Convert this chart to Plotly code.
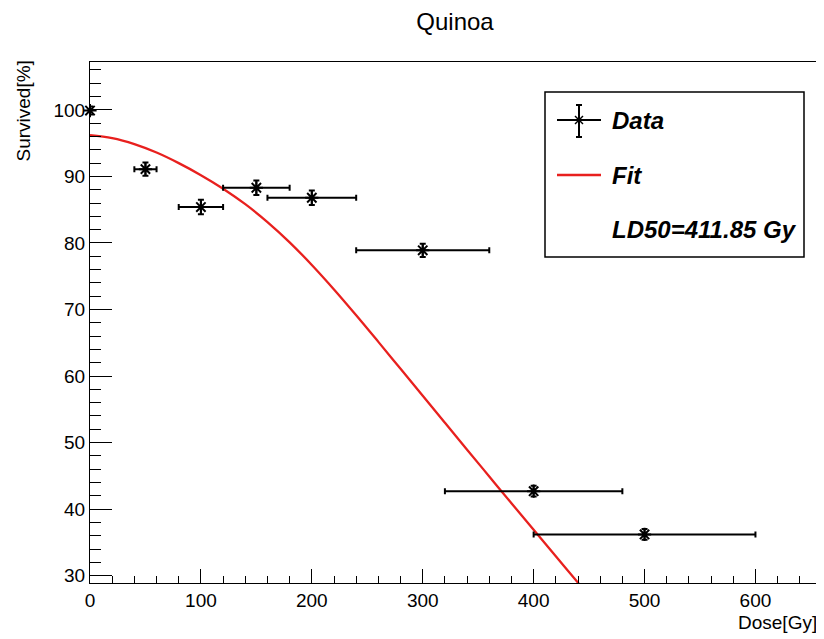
import plotly.graph_objects as go

# ---- data ----
dose = [0, 50, 100, 150, 200, 300, 400, 500]
survived = [99.9, 91.1, 85.4, 88.3, 86.8, 78.9, 42.7, 36.2]
dose_err = [0, 10, 20, 30, 40, 60, 80, 100]
survived_err = [0.6, 1.0, 1.1, 1.1, 1.1, 1.0, 0.8, 0.8]

fit_dose = [0, 20, 40, 60, 80, 100, 120, 140, 160, 180, 200, 220,
            240, 260, 280, 300, 320, 340, 360, 380, 400, 420, 440, 445]
fit_surv = [96.2, 95.76, 94.86, 93.59, 92.0, 90.19, 88.16, 85.83, 83.15, 80.10, 76.70, 73.02,
            69.14, 65.14, 61.09, 57.03, 52.98, 48.94, 44.91, 40.89, 36.89, 32.91, 28.95, 27.95]

title_text = "Quinoa"
x_title = "Dose[Gy]"
y_title = "Survived[%]"
legend_labels = ["Data", "Fit", "LD50=411.85 Gy"]

FONT = "Liberation Sans, Arial, sans-serif"

# the page body adds an 8px margin; reference pixel coords are shifted by it
OFF = 8
W, H = 824 - OFF, 639 - OFF
# plot area in reference pixels
L, R, T, B = 90, 822, 62, 583


def px(x):
    return (x - L) / (R - L)


def py(y):
    return (B - y) / (B - T)


RED = "#e8201e"

fig = go.Figure()

fig.add_trace(go.Scatter(
    x=fit_dose, y=fit_surv, mode="lines",
    line=dict(color=RED, width=2.3, shape="spline", smoothing=1.0),
    showlegend=False, hoverinfo="skip",
))

fig.add_trace(go.Scatter(
    x=dose, y=survived, mode="markers",
    marker=dict(symbol="asterisk-open", size=11, color="black",
                line=dict(color="black", width=2)),
    error_x=dict(type="data", array=dose_err, color="black", thickness=2, width=3),
    error_y=dict(type="data", array=survived_err, color="black", thickness=2, width=3),
    cliponaxis=False, showlegend=False,
))

shapes = []
# legend box
shapes.append(dict(type="rect", xref="paper", yref="paper",
                   x0=px(545), x1=px(804), y0=py(257), y1=py(92),
                   line=dict(color="black", width=1.5), fillcolor="white", layer="above"))
# data glyph
lc = "black"
shapes.append(dict(type="line", xref="paper", yref="paper", x0=px(557), x1=px(601), y0=py(120), y1=py(120),
                   line=dict(color=lc, width=2)))
shapes.append(dict(type="line", xref="paper", yref="paper", x0=px(579), x1=px(579), y0=py(105), y1=py(137),
                   line=dict(color=lc, width=2)))
for yy in (105, 137):
    shapes.append(dict(type="line", xref="paper", yref="paper", x0=px(576), x1=px(582), y0=py(yy), y1=py(yy),
                       line=dict(color=lc, width=2)))
shapes.append(dict(type="line", xref="paper", yref="paper", x0=px(575), x1=px(583), y0=py(116), y1=py(124),
                   line=dict(color=lc, width=1.5)))
shapes.append(dict(type="line", xref="paper", yref="paper", x0=px(575), x1=px(583), y0=py(124), y1=py(116),
                   line=dict(color=lc, width=1.5)))
# fit glyph
shapes.append(dict(type="line", xref="paper", yref="paper", x0=px(557), x1=px(601), y0=py(175), y1=py(175),
                   line=dict(color=RED, width=2.3)))

annotations = []
for lab, yy in zip(legend_labels, (120, 175, 230)):
    annotations.append(dict(xref="paper", yref="paper", x=px(610), y=py(yy),
                            xanchor="left", yanchor="middle", showarrow=False,
                            text="<b><i>%s</i></b>" % lab,
                            font=dict(family=FONT, size=24, color="black")))
annotations.append(dict(xref="paper", yref="paper", x=px(819), y=py(622),
                        xanchor="right", yanchor="middle", showarrow=False,
                        text=x_title, font=dict(family=FONT, size=19, color="black")))
annotations.append(dict(xref="paper", yref="paper", x=px(23), y=py(59),
                        xanchor="center", yanchor="top", showarrow=False, textangle=-90,
                        text=y_title, font=dict(family=FONT, size=19, color="black")))

fig.update_layout(
    width=W, height=H,
    margin=dict(l=L - OFF, r=W - (R - OFF), t=T - OFF, b=H - (B - OFF)),
    paper_bgcolor="white", plot_bgcolor="white",
    font=dict(family=FONT, color="black"),
    title=dict(text=title_text, x=(455 - OFF) / W, y=1.0,
               xanchor="center", yanchor="top", pad=dict(t=5),
               font=dict(family=FONT, size=24, color="black")),
    shapes=shapes, annotations=annotations,
    showlegend=False,
)

fig.update_xaxes(
    range=[0, 660], tick0=0, dtick=100, ticks="inside", ticklen=14, tickwidth=1, tickcolor="black",
    minor=dict(dtick=20, ticks="inside", ticklen=7, tickcolor="black", tickwidth=1),
    showline=True, linecolor="black", linewidth=1, mirror=True,
    showgrid=False, zeroline=False,
    tickfont=dict(family=FONT, size=19, color="black"),
)
fig.update_yaxes(
    range=[28.9, 107.2], tick0=0, dtick=10, ticks="inside", ticklen=22, tickwidth=1, tickcolor="black",
    minor=dict(dtick=2, ticks="inside", ticklen=11, tickcolor="black", tickwidth=1),
    showline=True, linecolor="black", linewidth=1, mirror=True,
    showgrid=False, zeroline=False,
    tickfont=dict(family=FONT, size=19, color="black"),
)

fig.write_html("out.html")
